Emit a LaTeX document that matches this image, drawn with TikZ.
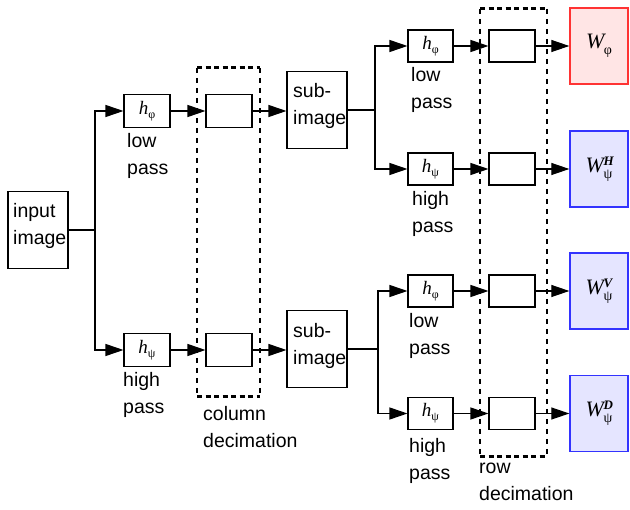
\documentclass[tikz,border=0pt]{standalone}
\usepackage{fontspec}
\setmainfont{Liberation Sans}
\newfontfamily\serifm{Liberation Serif}
\usetikzlibrary{arrows.meta}
\newcommand{\hlab}[1]{{\serifm\fontsize{19}{19}\selectfont\itshape h}\raisebox{-4pt}{\serifm\fontsize{12}{12}\selectfont #1}}
\newcommand{\wlab}[2]{{\serifm\fontsize{22}{22}\selectfont\itshape W}\kern-0.5pt\rlap{\raisebox{7pt}{\serifm\fontsize{13}{13}\selectfont\bfseries\itshape #2}}\raisebox{-6pt}{\serifm\fontsize{14}{14}\selectfont #1}}
\begin{document}
\begin{tikzpicture}[x=1pt,y=-1pt,
  box/.style={draw, line width=1.1pt, inner sep=0pt, minimum width=46pt, minimum height=33pt},
  bigbox/.style={draw, line width=1.1pt, inner sep=0pt, minimum width=60pt, minimum height=77pt},
  wbox/.style={draw=#1!80!white, fill=#1!10!white, line width=1.3pt, inner sep=0pt, minimum width=58pt, minimum height=76pt},
  lbl/.style={anchor=north west, inner sep=0pt, align=left, font=\fontsize{19.5}{27}\selectfont},
  arr/.style={line width=1.1pt, -{Triangle[length=18pt,width=12pt]}},
  ln/.style={line width=1.1pt},
  vdash/.style={line width=1.3pt, dash pattern=on 5pt off 5pt},
  hdash/.style={line width=3pt, dash pattern=on 5pt off 3.5pt}]
\useasboundingbox (0,0) rectangle (630,510);

% dashed decimation frames
\draw[vdash] (197,68) -- (197,397);
\draw[vdash] (260,68) -- (260,397);
\draw[hdash] (197,68) -- (260,68);
\draw[hdash] (197,397) -- (260,397);
\draw[vdash] (480,9) -- (480,457);
\draw[vdash] (547,9) -- (547,457);
\draw[hdash] (480,9) -- (547,9);
\draw[hdash] (480,457) -- (547,457);

% stage 1
\node[bigbox] (in) at (38,230) {};
\node[lbl] (intext) at (13,203) {input\\image};
\node[box] (f1) at (147,111) {\hlab{φ}};
\node[box] (f2) at (147,350) {\hlab{ψ}};
\node[box] (c1) at (229,111) {};
\node[box] (c2) at (229,350) {};
\node[bigbox] (s1) at (317,110) {};
\node[bigbox] (s2) at (317,349) {};
\node[lbl] (s1t) at (293,83) {sub-\\image};
\node[lbl] (s2t) at (293,323) {sub-\\image};
\node[lbl] (l1) at (127,133) {low\\pass};
\node[lbl] (l2) at (123,372) {high\\pass};
\node[lbl] (cd) at (203,406) {column\\decimation};

% stage 2
\node[box, minimum width=45pt, minimum height=32pt] (g1) at (430.5,46) {\hlab{φ}};
\node[box, minimum width=45pt, minimum height=32pt] (g2) at (430.5,169) {\hlab{ψ}};
\node[box, minimum width=45pt, minimum height=32pt] (g3) at (430.5,291) {\hlab{φ}};
\node[box, minimum width=45pt, minimum height=32pt] (g4) at (430.5,413.5) {\hlab{ψ}};
\node[box, minimum height=32pt] (r1) at (512,46) {};
\node[box, minimum height=32pt] (r2) at (512,169) {};
\node[box, minimum height=32pt] (r3) at (512,291) {};
\node[box, minimum height=32pt] (r4) at (512,413.5) {};
\node[wbox=red] (w1) at (599,46) {\wlab{φ}{}};
\node[wbox=blue] (w2) at (599,169) {\wlab{ψ}{H}};
\node[wbox=blue] (w3) at (599,291) {\wlab{ψ}{V}};
\node[wbox=blue] (w4) at (599,413.5) {\wlab{ψ}{D}};
\node[lbl] (m1) at (411,67) {low\\pass};
\node[lbl] (m2) at (412,191) {high\\pass};
\node[lbl] (m3) at (409,313) {low\\pass};
\node[lbl] (m4) at (409,438) {high\\pass};
\node[lbl] (rd) at (479,463) {row\\decimation};

% connectors
\coordinate (b0) at (95,230);
\coordinate (b1) at (375,110);
\coordinate (b2) at (378,349);
\draw[ln] (in.east) -- (b0);
\draw[arr] (b0) |- (f1.west);
\draw[arr] (b0) |- (f2.west);
\draw[arr] (f1) -- (c1);
\draw[arr] (f2) -- (c2);
\draw[arr] (c1) -- (s1.west |- c1);
\draw[arr] (c2) -- (s2.west |- c2);
\draw[ln] (s1.east) -- (b1);
\draw[ln] (s2.east) -- (b2);
\draw[arr] (b1) |- (g1.west);
\draw[arr] (b1) |- (g2.west);
\draw[arr] (b2) |- (g3.west);
\draw[arr] (b2) |- (g4.west);
\foreach \i in {1,2,3,4} {
  \draw[arr] (g\i) -- (r\i);
  \draw[arr] (r\i) -- (w\i);
}
\end{tikzpicture}
\end{document}
